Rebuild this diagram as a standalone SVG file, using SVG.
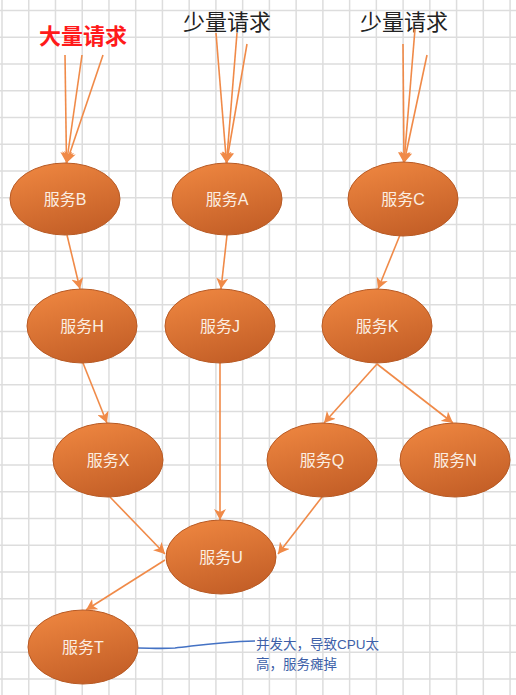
<svg xmlns="http://www.w3.org/2000/svg" width="516" height="695" viewBox="0 0 516 695">
<defs>
<linearGradient id="og" x1="0.2" y1="0" x2="0.6" y2="1">
<stop offset="0" stop-color="#ee8640"/>
<stop offset="1" stop-color="#c45f27"/>
</linearGradient>
<marker id="ah" markerUnits="userSpaceOnUse" markerWidth="12" markerHeight="12" refX="11" refY="6" orient="auto">
<path d="M0,0 L11,6 L0,12 L3,6 z" fill="#f08a48"/>
</marker>
</defs>
<style>
.grid{stroke:#dddddd;stroke-width:1.5;fill:none}
.node ellipse{fill:url(#og);stroke:#b85a24;stroke-width:1}
.node text{font-family:"Liberation Sans","Noto Sans CJK SC",sans-serif;font-size:16px;fill:#fbeee2;text-anchor:middle}
.edge{stroke:#f08a48;stroke-width:1.6;fill:none;marker-end:url(#ah)}
.req{font-family:"Liberation Sans","Noto Sans CJK SC",sans-serif;font-size:22px;text-anchor:middle}
.note{font-family:"Liberation Sans","Noto Sans CJK SC",sans-serif;font-size:13.5px;fill:#3d5fa8}
</style>
<rect width="516" height="695" fill="#ffffff"/>
<path class="grid" d="M2,0V695M28.74,0V695M55.48,0V695M82.22,0V695M108.96,0V695M135.7,0V695M162.44,0V695M189.18,0V695M215.92,0V695M242.66,0V695M269.4,0V695M296.14,0V695M322.88,0V695M349.62,0V695M376.36,0V695M403.1,0V695M429.84,0V695M456.58,0V695M483.32,0V695M510.06,0V695
M0,10.5H516M0,37.24H516M0,63.98H516M0,90.72H516M0,117.46H516M0,144.2H516M0,170.94H516M0,197.68H516M0,224.42H516M0,251.16H516M0,277.9H516M0,304.64H516M0,331.38H516M0,358.12H516M0,384.86H516M0,411.6H516M0,438.34H516M0,465.08H516M0,491.82H516M0,518.56H516M0,545.3H516M0,572.04H516M0,598.78H516M0,625.52H516M0,652.26H516M0,679H516"/>

<g id="labels">
<text class="req" x="83" y="44" fill="#ff1a1a" font-weight="bold" font-size="21">大量请求</text>
<text class="req" x="227" y="30" fill="#222222">少量请求</text>
<text class="req" x="404" y="30" fill="#222222">少量请求</text>
</g>

<g id="connectors">
<path class="edge" d="M65,55 L66.5,163"/>
<path class="edge" d="M82,55 L66.5,163"/>
<path class="edge" d="M103,55 L66.5,163"/>
<path class="edge" d="M216,33 L226.5,163"/>
<path class="edge" d="M237,33 L226.5,163"/>
<path class="edge" d="M247,44 L226.5,163"/>
<path class="edge" d="M403,44 L404,163"/>
<path class="edge" d="M415,29 L404,163"/>
<path class="edge" d="M427,55 L404,163"/>
<path class="edge" d="M67,235 L80,289"/>
<path class="edge" d="M227,235 L221,289"/>
<path class="edge" d="M400,235 L378,289"/>
<path class="edge" d="M83,363 L107,423"/>
<path class="edge" d="M220,363 L220,520"/>
<path class="edge" d="M377,364 L324,423"/>
<path class="edge" d="M377,364 L453,423"/>
<path class="edge" d="M110,497 L165,554"/>
<path class="edge" d="M322,497 L278,554"/>
<path class="edge" d="M165,560 L86,610"/>
<path d="M138,648 C150,648 160,649 175,648 C195,646 215,642 255,641" fill="none" stroke="#4472c4" stroke-width="1.6"/>
</g>

<g id="node-B" class="node"><ellipse cx="65" cy="199" rx="55" ry="36"/><text x="65" y="205">服务B</text></g>
<g id="node-A" class="node"><ellipse cx="227" cy="199" rx="55" ry="36"/><text x="227" y="205">服务A</text></g>
<g id="node-C" class="node"><ellipse cx="403" cy="199" rx="55" ry="37"/><text x="403" y="205">服务C</text></g>
<g id="node-H" class="node"><ellipse cx="82" cy="326" rx="55" ry="37"/><text x="82" y="332">服务H</text></g>
<g id="node-J" class="node"><ellipse cx="220" cy="326" rx="55" ry="37"/><text x="220" y="332">服务J</text></g>
<g id="node-K" class="node"><ellipse cx="377" cy="326" rx="55" ry="37"/><text x="377" y="332">服务K</text></g>
<g id="node-X" class="node"><ellipse cx="108" cy="460" rx="55" ry="37"/><text x="108" y="466">服务X</text></g>
<g id="node-Q" class="node"><ellipse cx="322" cy="460" rx="55" ry="37"/><text x="322" y="466">服务Q</text></g>
<g id="node-N" class="node"><ellipse cx="455" cy="460" rx="55" ry="37"/><text x="455" y="466">服务N</text></g>
<g id="node-U" class="node"><ellipse cx="221" cy="557" rx="55" ry="37"/><text x="221" y="563">服务U</text></g>
<g id="node-T" class="node"><ellipse cx="83" cy="647" rx="55" ry="37"/><text x="83" y="653">服务T</text></g>

<g id="note">
<text class="note" x="256" y="649">并发大，导致CPU太</text>
<text class="note" x="256" y="669">高，服务瘫掉</text>
</g>
</svg>
